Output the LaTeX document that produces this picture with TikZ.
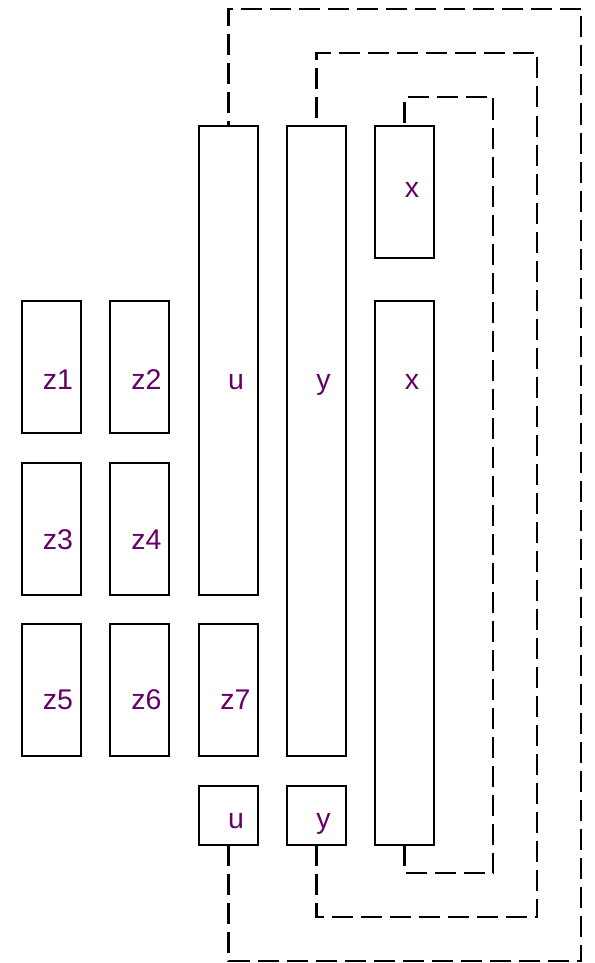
\documentclass[tikz,border=0pt]{standalone}
\usepackage{fontspec}
\setmainfont{Liberation Sans}
\definecolor{lbl}{RGB}{102,0,102}
\begin{document}
\begin{tikzpicture}[x=1pt,y=-1pt,
  box/.style={draw=black,line width=2.2pt,minimum width=59pt,inner sep=0pt,outer sep=0pt},
  lab/.style={text=lbl,font=\fontsize{28.5}{28.5}\selectfont,anchor=base,inner sep=0pt},
  link/.style={draw=black,line width=2.4pt,dash pattern=on 21pt off 8pt}]
\useasboundingbox (0,0) rectangle (594,963);
% boxes
\node[box,minimum height=132pt] (z1) at (51.5,367) {};
\node[box,minimum height=132pt] (z2) at (139.5,367) {};
\node[box,minimum height=132pt] (z3) at (51.5,529) {};
\node[box,minimum height=132pt] (z4) at (139.5,529) {};
\node[box,minimum height=132pt] (z5) at (51.5,690) {};
\node[box,minimum height=132pt] (z6) at (139.5,690) {};
\node[box,minimum height=132pt] (z7) at (228.5,690) {};
\node[box,minimum height=469pt] (ut) at (228.5,360.5) {};
\node[box,minimum height=59pt] (us) at (228.5,815.5) {};
\node[box,minimum height=630pt] (yt) at (316.5,441) {};
\node[box,minimum height=59pt] (ys) at (316.5,815.5) {};
\node[box,minimum height=132pt] (xs) at (404.5,192) {};
\node[box,minimum height=544pt] (xt) at (404.5,573) {};
% labels
\node[lab] (l1) at (58,389) {z1};
\node[lab] (l2) at (146.5,389) {z2};
\node[lab] (l3) at (58,549) {z3};
\node[lab] (l4) at (146.5,549) {z4};
\node[lab] (l5) at (58,709) {z5};
\node[lab] (l6) at (146.5,709) {z6};
\node[lab] (l7) at (235.5,709) {z7};
\node[lab] (lu) at (236,389) {u};
\node[lab] (ly) at (323.5,389) {y};
\node[lab] (lxt) at (412,389) {x};
\node[lab] (lxs) at (412,197) {x};
\node[lab] (lus) at (236,828) {u};
\node[lab] (lys) at (323.5,828) {y};
% corner coordinates
\coordinate (ua) at (581,9);
\coordinate (ub) at (581,961);
\coordinate (ya) at (537,53);
\coordinate (yb) at (537,917);
\coordinate (xa) at (493,97);
\coordinate (xb) at (493,873);
% connectors
\draw[link] (us.south) |- (ub) -- (ua) -| (ut.north);
\draw[link] (ys.south) |- (yb) -- (ya) -| (yt.north);
\draw[link] (xt.south) |- (xb) -- (xa) -| (xs.north);
\end{tikzpicture}
\end{document}
